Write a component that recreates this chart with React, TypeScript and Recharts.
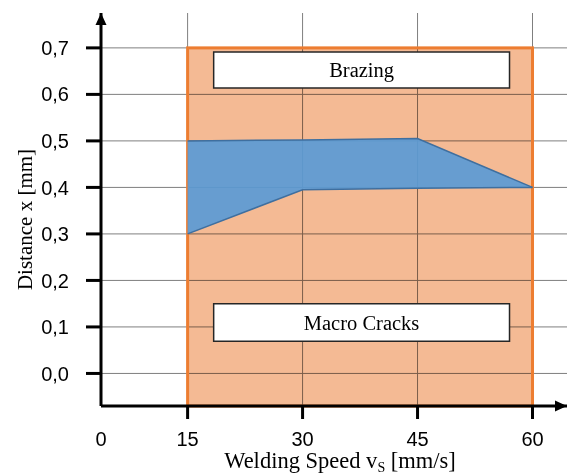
import {
  Area,
  CartesianGrid,
  ComposedChart,
  ReferenceArea,
  ReferenceDot,
  XAxis,
  YAxis,
} from "recharts";

// welding speed vs distance – process window
const speeds = [15, 30, 45, 60];
const upperBound = [0.5, 0.502, 0.505, 0.4];
const lowerBound = [0.3, 0.395, 0.398, 0.4];

// axis ranges (the "0" tick sits on the y axis, not at a true 0)
const X_MIN = 3.7;
const X_MAX = 64.5;
const Y_MIN = -0.07;
const Y_MAX = 0.775;

const xTickValues = [X_MIN, 15, 30, 45, 60];
const xTickLabels = ["0", "15", "30", "45", "60"];
const yTicks = [0, 0.1, 0.2, 0.3, 0.4, 0.5, 0.6, 0.7];

// orange region and the two text boxes
const regionX = [15, 60];
const regionY = [Y_MIN, 0.7];
const brazingBox = { x: [18.4, 57], y: [0.614, 0.691], text: "Brazing" };
const cracksBox = { x: [18.4, 57], y: [0.069, 0.15], text: "Macro Cracks" };

const bandData = speeds.map((s, i) => ({
  speed: s,
  band: [lowerBound[i], upperBound[i]],
}));

const SANS = "'Liberation Sans', Arial, sans-serif";
const SERIF = "'Liberation Serif', 'Times New Roman', serif";
const X_TICK_SIZE = 13;
const X_TICK_MARGIN = 13;

const XTick = (props: any) => {
  const { x, y, payload } = props;
  const i = xTickValues.indexOf(payload.value);
  const axisY = y - X_TICK_SIZE - X_TICK_MARGIN;
  return (
    <g>
      {payload.value !== X_MIN && (
        <line
          x1={x}
          x2={x}
          y1={axisY}
          y2={axisY + X_TICK_SIZE}
          stroke="#000"
          strokeWidth={3}
        />
      )}
      <text
        x={x}
        y={y}
        dy="0.71em"
        textAnchor="middle"
        fontSize={20}
        fontFamily={SANS}
        fill="#000"
      >
        {xTickLabels[i]}
      </text>
    </g>
  );
};

const OrangeRegion = (props: any) => {
  const { x, y, width, height } = props;
  return (
    <g>
      <rect
        x={x}
        y={y}
        width={width}
        height={height}
        fill="#F4BA94"
        style={{ mixBlendMode: "multiply" }}
      />
      <rect
        x={x}
        y={y}
        width={width}
        height={height}
        fill="none"
        stroke="#ED7D31"
        strokeWidth={3}
      />
    </g>
  );
};

const UpArrow = (props: any) => {
  const { cx, cy } = props;
  return (
    <polygon
      points={`${cx - 5.5},${cy + 12} ${cx + 5.5},${cy + 12} ${cx},${cy}`}
      fill="#000"
    />
  );
};

const RightArrow = (props: any) => {
  const { cx, cy } = props;
  return (
    <polygon
      points={`${cx - 12},${cy - 5.5} ${cx - 12},${cy + 5.5} ${cx},${cy}`}
      fill="#000"
    />
  );
};

const boxLabel = (text: string) => ({
  value: text,
  position: "center" as const,
  fill: "#000",
  fontSize: 20.5,
  fontFamily: SERIF,
});

export default function App() {
  return (
    <div style={{ position: "absolute", left: 0, top: 0, background: "#fff" }}>
      <ComposedChart
        width={567}
        height={475}
        data={bandData}
        margin={{ top: 13, right: 0, bottom: 0, left: 0 }}
      >
        <CartesianGrid
          stroke="#7f7f7f"
          strokeWidth={1}
          horizontalValues={yTicks}
          verticalValues={xTickValues}
        />
        <XAxis
          dataKey="speed"
          type="number"
          domain={[X_MIN, X_MAX]}
          ticks={xTickValues}
          allowDataOverflow
          height={69}
          tickSize={X_TICK_SIZE}
          tickMargin={X_TICK_MARGIN}
          tickLine={false}
          tick={<XTick />}
          axisLine={{ stroke: "#000", strokeWidth: 3 }}
          label={{
            content: (p: any) => {
              const vb = p.viewBox;
              const cx = vb.x + vb.width / 2 + 6;
              const cy = vb.y + 62;
              return (
                <text
                  x={cx}
                  y={cy}
                  textAnchor="middle"
                  fontSize={22.5}
                  fontFamily={SERIF}
                  fill="#000"
                >
                  <tspan>Welding Speed v</tspan>
                  <tspan fontSize={14} dy={4}>
                    S
                  </tspan>
                  <tspan dy={-4}> [mm/s]</tspan>
                </text>
              );
            },
          }}
        />
        <YAxis
          type="number"
          domain={[Y_MIN, Y_MAX]}
          ticks={yTicks}
          allowDataOverflow
          width={101}
          tickSize={15}
          tickMargin={17}
          tickLine={{ stroke: "#000", strokeWidth: 3 }}
          axisLine={{ stroke: "#000", strokeWidth: 3 }}
          tick={{ fill: "#000", fontSize: 20, fontFamily: SANS }}
          tickFormatter={(v: number) => v.toFixed(1).replace(".", ",")}
          label={{
            content: (p: any) => {
              const vb = p.viewBox;
              const cx = 32;
              const cy = vb.y + vb.height / 2 + 10;
              return (
                <text
                  x={cx}
                  y={cy}
                  transform={`rotate(-90 ${cx} ${cy})`}
                  textAnchor="middle"
                  fontSize={21}
                  fontFamily={SERIF}
                  fill="#000"
                >
                  Distance x [mm]
                </text>
              );
            },
          }}
        />
        <ReferenceArea
          x1={regionX[0]}
          x2={regionX[1]}
          y1={regionY[0]}
          y2={regionY[1]}
          shape={<OrangeRegion />}
          ifOverflow="visible"
        />
        <Area
          dataKey="band"
          type="linear"
          fill="#5B9BD5"
          fillOpacity={0.93}
          stroke="#3F6F9F"
          strokeWidth={1.5}
          isAnimationActive={false}
          activeDot={false}
          dot={false}
        />
        <ReferenceArea
          x1={brazingBox.x[0]}
          x2={brazingBox.x[1]}
          y1={brazingBox.y[0]}
          y2={brazingBox.y[1]}
          fill="#fff"
          fillOpacity={1}
          stroke="#262626"
          strokeWidth={1.5}
          label={boxLabel(brazingBox.text)}
        />
        <ReferenceArea
          x1={cracksBox.x[0]}
          x2={cracksBox.x[1]}
          y1={cracksBox.y[0]}
          y2={cracksBox.y[1]}
          fill="#fff"
          fillOpacity={1}
          stroke="#262626"
          strokeWidth={1.5}
          label={boxLabel(cracksBox.text)}
        />
        <ReferenceDot
          x={X_MIN}
          y={Y_MAX}
          shape={<UpArrow />}
          ifOverflow="visible"
        />
        <ReferenceDot
          x={X_MAX}
          y={Y_MIN}
          shape={<RightArrow />}
          ifOverflow="visible"
        />
      </ComposedChart>
    </div>
  );
}
